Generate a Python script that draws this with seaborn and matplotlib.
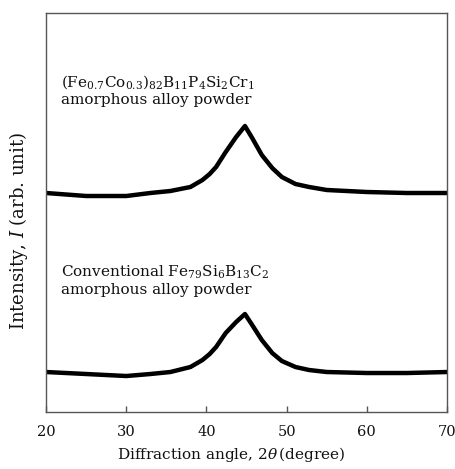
import matplotlib
matplotlib.use("Agg")
import matplotlib.pyplot as plt
import seaborn as sns
import pandas as pd

# 2theta sample positions (degree)
angle = [20, 25, 30, 33, 35.5, 38, 39.5, 40.4, 41.2, 42.4, 43.7, 44.8, 45.7, 46.9, 48.2, 49.4, 51.1, 52.8, 55, 60, 65, 70]
# Intensity (arb. unit)
new_alloy = [219, 216, 216, 219, 221, 225, 232, 238, 245, 260, 275, 286, 274, 257, 244, 235, 228, 225, 222, 220, 219, 219]
conventional = [40, 38, 36, 38, 40, 45, 52, 58, 65, 79, 90, 98, 87, 72, 59, 51, 45, 42, 40, 39, 39, 40]

label_new = r"$\mathrm{(Fe_{0.7}Co_{0.3})_{82}B_{11}P_{4}Si_{2}Cr_{1}}$" + "\namorphous alloy powder"
label_conv = r"Conventional $\mathrm{Fe_{79}Si_{6}B_{13}C_{2}}$" + "\namorphous alloy powder"
xticks = [20, 30, 40, 50, 60, 70]

df = pd.concat([
    pd.DataFrame({"angle": angle, "I": new_alloy, "sample": "new"}),
    pd.DataFrame({"angle": angle, "I": conventional, "sample": "conv"}),
])

sns.set_style("white")
plt.rcParams["font.family"] = ["DejaVu Serif"]
plt.rcParams["mathtext.fontset"] = "dejavuserif"
plt.rcParams["text.color"] = "#111111"
plt.rcParams["axes.labelcolor"] = "#111111"
plt.rcParams["xtick.color"] = "#111111"

fig = plt.figure(figsize=(4.56, 4.69), dpi=100)
ax = fig.add_axes([0.101, 0.1215, 0.8794, 0.8508])

sns.lineplot(data=df, x="angle", y="I", units="sample", estimator=None,
             color="black", linewidth=3.2, ax=ax, legend=False)

ax.set_xlim(20, 70)
ax.set_ylim(0, 399)
ax.set_xticks(xticks)
ax.set_xticklabels([str(t) for t in xticks], fontsize=10.5)
ax.set_yticks([])
ax.tick_params(axis="x", direction="in", length=4, width=1, color="#555555",
               labelcolor="#111111", pad=9, bottom=True)
for s in ax.spines.values():
    s.set_color("#555555")
    s.set_linewidth(1.0)

ax.set_xlabel(r"Diffraction angle, $\mathit{2\theta}\,$(degree)", fontsize=11)
ax.xaxis.set_label_coords(0.461, -0.083)
ax.set_ylabel(r"Intensity, $\mathit{I}$ (arb. unit)", fontsize=13)
ax.yaxis.set_label_coords(-0.04, 0.454)

ax.text(21.9, 322, label_new, fontsize=11, va="center", linespacing=1.2)
ax.text(21.9, 132, label_conv, fontsize=11, va="center", linespacing=1.2)

fig.savefig("out.png", dpi=100)
